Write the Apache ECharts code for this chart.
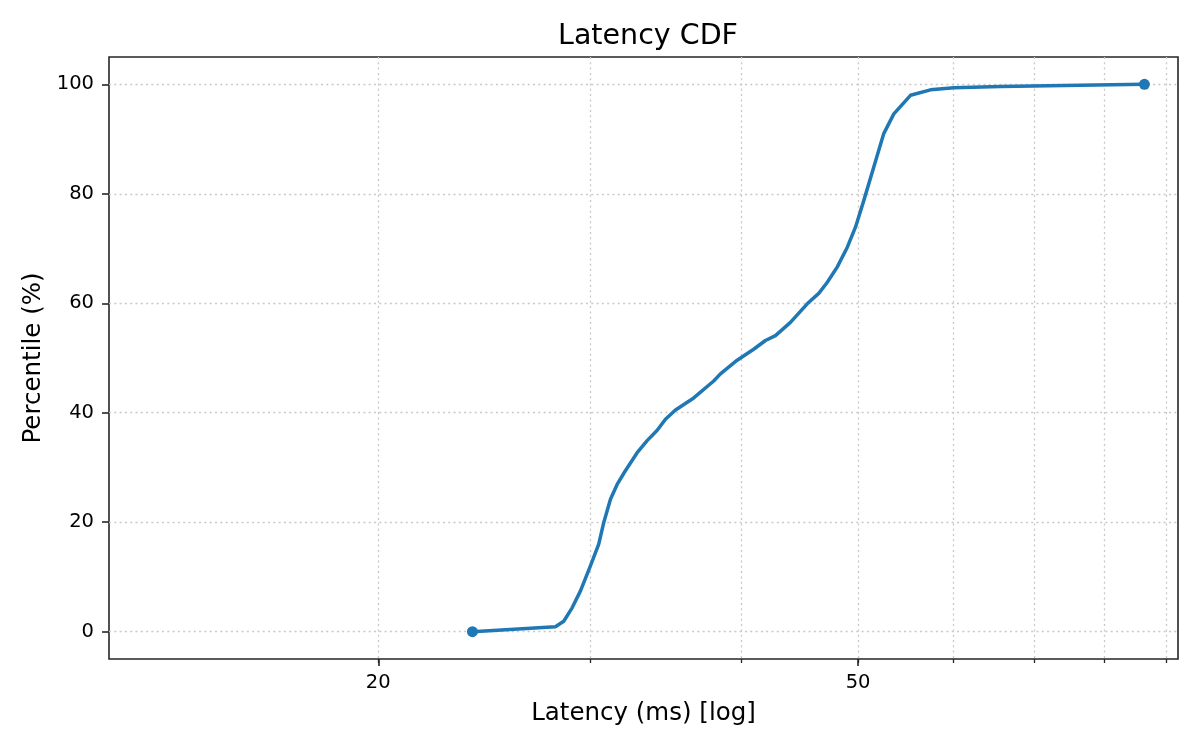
<!DOCTYPE html>
<html>
<head>
<meta charset="utf-8">
<title>Latency CDF</title>
<script src="https://cdn.jsdelivr.net/npm/echarts@6/dist/echarts.min.js"></script>
<style>
  html, body { margin: 0; padding: 0; background: #fff; }
  #chart { width: 1200px; height: 750px; }
</style>
</head>
<body>
<div id="chart"></div>
<script>
// latency (ms) read along the curve, and the matching percentile
const latencyMs = [23.94, 28.05, 28.50, 28.96, 29.42, 29.99, 30.47, 30.76, 31.16, 31.56,
  32.06, 32.79, 33.42, 34.07, 34.61, 35.28, 36.53, 37.95, 38.44, 39.69,
  40.96, 41.89, 42.70, 43.94, 45.37, 46.38, 47.13, 48.04, 48.97, 49.75,
  50.55, 51.52, 52.51, 53.53, 55.26, 57.41, 60.02, 65.62, 86.38]
const percentile = [0, 0.9, 1.9, 4.35, 7.4, 12.0, 16.0, 19.9, 24.2, 26.9,
  29.4, 32.7, 34.9, 36.8, 38.8, 40.5, 42.7, 45.8, 47.1, 49.6,
  51.6, 53.2, 54.1, 56.5, 59.9, 61.8, 63.8, 66.6, 70.2, 73.9,
  78.8, 84.9, 91.0, 94.6, 98.0, 99.0, 99.4, 99.6, 100]

// ticks
const xMajorTicks = [20, 50]
const xMinorTicks = [20, 30, 40, 50, 60, 70, 80, 90]
const yTicks = [0, 20, 40, 60, 80, 100]

const font = 'DejaVu Sans'
const lineColor = '#1f77b4'
const gridLine = { show: true, lineStyle: { color: '#c8c8c8', width: 1.3, type: [2, 3.3] } }

let chart = echarts.init(document.getElementById('chart'), null, { renderer: 'canvas' })
let lastIdx = latencyMs.length - 1

let option = {
  animation: false,
  backgroundColor: '#fff',
  textStyle: { fontFamily: font, color: '#000' },
  title: {
    text: 'Latency CDF',
    left: 643,
    textAlign: 'center',
    top: 17,
    textStyle: { fontFamily: font, fontSize: 28.5, fontWeight: 'normal', color: '#000' }
  },
  grid: {
    left: 109, right: 22, top: 57, bottom: 91,
    containLabel: false,
    show: true,
    borderColor: '#262626',
    borderWidth: 1.6
  },
  xAxis: [{
    // minor ticks + grid
    type: 'log',
    logBase: 10,
    min: 11.96,
    max: 92.1,
    position: 'bottom',
    axisLine: { show: false, onZero: false },
    axisTick: { show: true, customValues: xMinorTicks, length: 4, lineStyle: { color: '#262626', width: 1.3 } },
    axisLabel: { show: false },
    splitLine: gridLine
  }, {
    // major ticks + labels
    type: 'log',
    logBase: 10,
    min: 11.96,
    max: 92.1,
    position: 'bottom',
    name: 'Latency (ms) [log]',
    nameLocation: 'middle',
    nameGap: 42,
    nameTextStyle: { fontFamily: font, fontSize: 24.5, color: '#000' },
    axisLine: { show: false, onZero: false },
    axisTick: { show: true, customValues: xMajorTicks, length: 7, lineStyle: { color: '#262626', width: 1.6 } },
    axisLabel: { customValues: xMajorTicks, fontFamily: font, fontSize: 19.5, color: '#000', margin: 14 },
    splitLine: { show: false }
  }],
  yAxis: {
    type: 'value',
    min: -5,
    max: 105,
    name: 'Percentile (%)',
    nameLocation: 'middle',
    nameGap: 62,
    nameTextStyle: { fontFamily: font, fontSize: 24.5, color: '#000' },
    axisLine: { show: false, onZero: false },
    axisTick: { show: true, customValues: yTicks, length: 7, lineStyle: { color: '#262626', width: 1.6 } },
    axisLabel: { customValues: yTicks, fontFamily: font, fontSize: 19.5, color: '#000', margin: 15 },
    splitLine: gridLine
  },
  series: [{
    type: 'line',
    xAxisIndex: 0,
    data: latencyMs.map((v, i) => [v, percentile[i]]),
    showAllSymbol: true,
    symbol: 'circle',
    symbolSize: (val, params) => (params.dataIndex === 0 || params.dataIndex === lastIdx) ? 11 : 0,
    itemStyle: { color: lineColor },
    lineStyle: { color: lineColor, width: 3.5, join: 'round', cap: 'round' },
    z: 3
  }]
}

chart.setOption(option)
</script>
</body>
</html>
